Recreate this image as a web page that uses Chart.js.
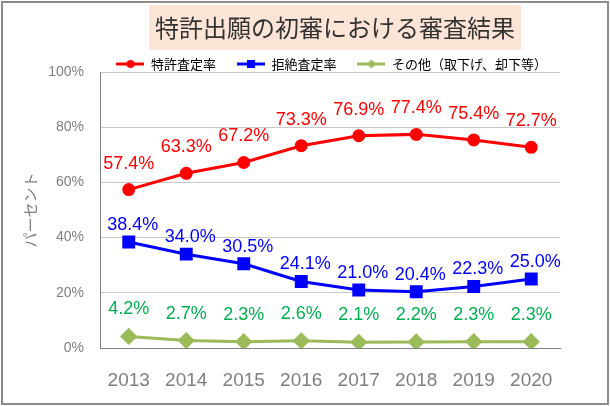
<!DOCTYPE html>
<html lang="ja">
<head>
  <meta charset="UTF-8">
  <title>特許出願の初審における審査結果</title>
  <script src="https://cdn.jsdelivr.net/npm/chart.js"></script>
  <style>
    body { margin: 0; background: #fff; }
    #chart { display: block; }
  </style>
</head>
<body>
  <canvas id="chart" width="610" height="406"></canvas>

  <script>
    const years = ['2013', '2014', '2015', '2016', '2017', '2018', '2019', '2020'];
    const grantRate = [57.4, 63.3, 67.2, 73.3, 76.9, 77.4, 75.4, 72.7];
    const rejectRate = [38.4, 34.0, 30.5, 24.1, 21.0, 20.4, 22.3, 25.0];
    const otherRate = [4.2, 2.7, 2.3, 2.6, 2.1, 2.2, 2.3, 2.3];
    const seriesNames = ['特許査定率', '拒絶査定率', 'その他（取下げ、却下等）'];

    const jp = '"Noto Sans CJK JP", sans-serif';
    const latin = '"Liberation Sans", Arial, sans-serif';

    // legend icons: short line with the marker in the middle
    function legendIcon(color, shape) {
      const c = document.createElement('canvas');
      c.width = 28; c.height = 12;
      const g = c.getContext('2d');
      g.strokeStyle = color; g.fillStyle = color; g.lineWidth = 3;
      g.beginPath(); g.moveTo(0, 6); g.lineTo(28, 6); g.stroke();
      g.beginPath();
      if (shape === 'circle') g.arc(14, 6, 4, 0, Math.PI * 2);
      if (shape === 'rect') g.rect(10, 2, 8, 8);
      if (shape === 'diamond') { g.moveTo(14, 1.5); g.lineTo(18.5, 6); g.lineTo(14, 10.5); g.lineTo(9.5, 6); g.closePath(); }
      g.fill();
      return c;
    }
    const icons = [
      legendIcon('#FF0000', 'circle'),
      legendIcon('#0000FF', 'rect'),
      legendIcon('#9BBB59', 'diamond')
    ];
    // trailing blanks widen the gaps between legend entries
    const legendGaps = ['\u3000', '\u3000', '\u2002'];

    // label colour / distance above the point, per series
    const labelStyle = [
      { color: '#FF0000', dy: 26, dx: 0 },
      { color: '#0000FF', dy: 17, dx: 4 },
      { color: '#00B050', dy: 27, dx: 0 }
    ];

    const valueLabels = {
      id: 'valueLabels',
      afterDatasetsDraw(chart) {
        const ctx = chart.ctx;
        ctx.save();
        ctx.font = '18px ' + latin;
        ctx.textAlign = 'center';
        ctx.textBaseline = 'middle';
        chart.data.datasets.forEach((ds, i) => {
          const st = labelStyle[i];
          ctx.fillStyle = st.color;
          chart.getDatasetMeta(i).data.forEach((pt, j) => {
            ctx.fillText(ds.data[j].toFixed(1) + '%', pt.x + st.dx, pt.y - st.dy);
          });
        });
        ctx.restore();
      }
    };

    // peach box behind the title, grey frame round the picture
    const decor = {
      id: 'decor',
      beforeDraw(chart) {
        const ctx = chart.ctx;
        const t = chart.options.plugins.title;
        ctx.save();
        ctx.font = t.font.size + 'px ' + jp;
        const w = ctx.measureText(t.text).width + 12;
        const cx = (chart.titleBlock.left + chart.titleBlock.right) / 2;
        ctx.fillStyle = '#FCE4D6';
        ctx.fillRect(cx - w / 2, 5, w, 45);
        ctx.restore();
      },
      afterDraw(chart) {
        const ctx = chart.ctx;
        ctx.save();
        ctx.strokeStyle = '#8C8C8C';
        ctx.lineWidth = 2;
        ctx.strokeRect(2, 2, chart.width - 4, chart.height - 4);
        ctx.restore();
      }
    };

    const ctx = document.getElementById('chart').getContext('2d');
    new Chart(ctx, {
      type: 'line',
      data: {
        labels: years,
        datasets: [
          {
            label: seriesNames[0], data: grantRate,
            borderColor: '#FF0000', backgroundColor: '#FF0000',
            borderWidth: 3, pointStyle: 'circle', pointRadius: 5
          },
          {
            label: seriesNames[1], data: rejectRate,
            borderColor: '#0000FF', backgroundColor: '#0000FF',
            borderWidth: 3, pointStyle: 'rect', pointRadius: 7
          },
          {
            label: seriesNames[2], data: otherRate,
            borderColor: '#9BBB59', backgroundColor: '#9BBB59',
            borderWidth: 3, pointStyle: 'rectRot', pointRadius: 6.5
          }
        ]
      },
      options: {
        responsive: false,
        animation: false,
        layout: { padding: { left: 60, right: 0, top: 0, bottom: 0 } },
        plugins: {
          tooltip: { enabled: false },
          title: {
            display: true,
            text: '特許出願の初審における審査結果',
            color: '#333333',
            font: { family: jp, size: 24, weight: 'normal' },
            padding: { top: 13.6, bottom: 7.1 }
          },
          legend: {
            display: true,
            position: 'top',
            maxHeight: 22.5,
            labels: {
              color: '#000',
              font: { family: jp, size: 13 },
              usePointStyle: true,
              pointStyleWidth: 28,
              padding: 8,
              generateLabels(chart) {
                const items = Chart.defaults.plugins.legend.labels.generateLabels(chart);
                items.forEach((it, i) => {
                  it.pointStyle = icons[i];
                  it.text = seriesNames[i] + legendGaps[i];
                });
                return items;
              }
            }
          }
        },
        scales: {
          x: {
            offset: true,
            grid: { display: false, drawTicks: false, offset: true },
            border: { display: true, color: '#808080', width: 1 },
            ticks: { color: '#7F7F7F', font: { family: latin, size: 19 }, padding: 21 },
            afterFit(s) { s.height = 58; }
          },
          y: {
            min: 0, max: 100,
            grid: { color: '#C8C8C8', drawTicks: false },
            border: { display: true, color: '#808080', width: 1 },
            ticks: {
              stepSize: 20,
              color: '#808080',
              font: { family: latin, size: 14 },
              // mirrored + far-aligned so the labels sit right-aligned left of the axis without clipping
              mirror: true,
              crossAlign: 'far',
              padding: -16,
              callback: v => v + '%'
            },
            afterTickToLabelConversion(s) {
              const ctx = s.chart.ctx;
              ctx.save();
              ctx.font = '14px ' + latin;
              const widest = Math.max(...s.ticks.map(t => ctx.measureText(t.label).width));
              ctx.restore();
              s.options.ticks.padding = -16 - widest;
            },
            title: {
              display: true,
              text: 'パーセント',
              color: '#808080',
              font: { family: jp, size: 15 },
              padding: { top: -39, bottom: 0 }
            },
            afterFit(s) { s.width = 40; }
          },
          y2: {
            type: 'linear',
            position: 'right',
            display: true,
            grid: { display: false, drawTicks: false },
            border: { display: false },
            ticks: { display: false },
            afterFit(s) { s.width = 50; }
          }
        }
      },
      plugins: [decor, valueLabels]
    });
  </script>
</body>
</html>
